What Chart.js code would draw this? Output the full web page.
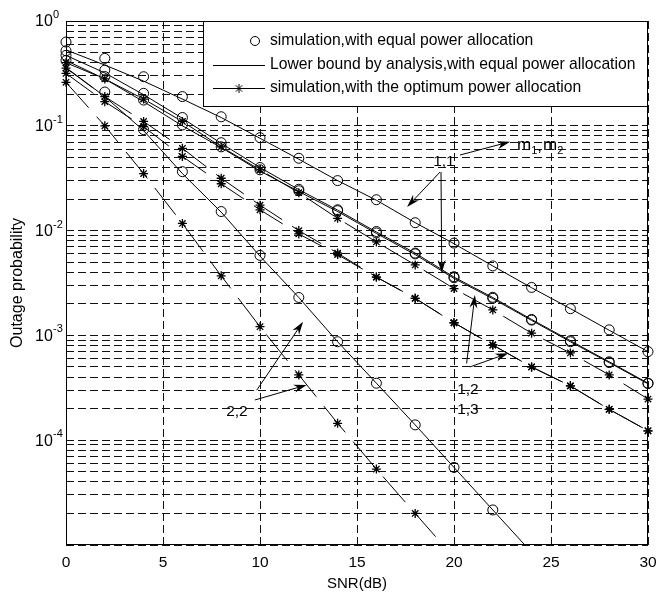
<!DOCTYPE html>
<html>
<head>
<meta charset="utf-8">
<script src="https://cdn.jsdelivr.net/npm/chart.js@4.4.0/dist/chart.umd.min.js"></script>
<style>
  html, body { margin: 0; padding: 0; background: #fff; }
</style>
</head>
<body>
<canvas id="outage" width="656" height="595"></canvas>
<script>
// SNR points (dB)
const snr = [0, 2, 4, 6, 8, 10, 12, 14, 16, 18, 20, 22, 24, 26, 28, 30];
const xTicks = [0, 5, 10, 15, 20, 25, 30];
const decades = [1e-5, 1e-4, 1e-3, 1e-2, 1e-1, 1];
const decadeExp = ['', '-4', '-3', '-2', '-1', '0'];

const legendLabels = [
  'simulation,with equal power allocation',
  'Lower bound by analysis,with equal power allocation',
  'simulation,with the optimum power allocation'
];

// equal power allocation, simulation (circles)
const simEqTop  = [0.63, 0.44, 0.294, 0.19, 0.122, 0.077, 0.049, 0.030, 0.0197, 0.0119, 0.0076, 0.0046, 0.00287, 0.0018, 0.00113, 0.0007];
const simEqMidA = [0.52, 0.34, 0.204, 0.12, 0.069, 0.040, 0.0248, 0.0158, 0.0098, 0.0061, 0.00363, 0.00231, 0.00142, 0.00089, 0.00056, 0.00035];
const simEqMidB = [0.47, 0.295, 0.176, 0.102, 0.063, 0.038, 0.024, 0.0155, 0.0095, 0.006, 0.00355, 0.00226, 0.0014, 0.00087, 0.00055, 0.000347];
const simEq22   = [0.42, 0.21, 0.092, 0.0365, 0.0152, 0.0058, 0.0023, 0.00087, 0.00035, 0.00014, 0.000055, 0.0000216, null, null, null, null];

// lower bound by analysis (solid lines)
const boundTop  = [0.53, 0.38, 0.267, 0.18, 0.12, 0.076, 0.048, 0.030, 0.0195, 0.0119, 0.0075, 0.0046, 0.00285, 0.0018, 0.00112, 0.0007];
const boundMidA = [0.47, 0.32, 0.198, 0.118, 0.068, 0.040, 0.0246, 0.0157, 0.0097, 0.0061, 0.0036, 0.0023, 0.00142, 0.00089, 0.00056, 0.00035];
const boundMidB = [0.42, 0.28, 0.17, 0.1, 0.062, 0.037, 0.0236, 0.0152, 0.0094, 0.0059, 0.0035, 0.00224, 0.00139, 0.00087, 0.00055, 0.000345];
const bound22   = [0.36, 0.19, 0.09, 0.035, 0.0150, 0.0057, 0.0023, 0.00087, 0.00035, 0.00014, 0.000055, 0.0000216, 0.0000085, null, null, null];

// optimum power allocation, simulation (stars)
const simOptA  = [0.40, 0.28, 0.18, 0.11, 0.063, 0.038, 0.023, 0.0131, 0.0078, 0.0047, 0.0028, 0.00175, 0.00105, 0.00068, 0.00042, 0.000247];
const simOptB  = [0.355, 0.19, 0.11, 0.061, 0.0316, 0.0175, 0.0100, 0.0061, 0.0036, 0.00226, 0.00132, 0.00081, 0.0005, 0.00033, 0.000197, 0.000123];
const simOptC  = [0.316, 0.17, 0.098, 0.051, 0.028, 0.0158, 0.0093, 0.0059, 0.0036, 0.00226, 0.00132, 0.00081, 0.0005, 0.00033, 0.000197, 0.000123];
const simOpt22 = [0.26, 0.10, 0.035, 0.0117, 0.0037, 0.00121, 0.00042, 0.000145, 0.000053, 0.00002, 0.0000076, null, null, null, null, null];

// text labels and arrows, in data coordinates
const notes = [
  { text: '1,1', x: 19.48, y: 0.045 },
  { text: '1,2', x: 20.72, y: 3.0e-4 },
  { text: '1,3', x: 20.72, y: 1.94e-4 },
  { text: '2,2', x: 8.81, y: 1.86e-4 }
];
const arrows = [
  [19.28, 0.0362, 17.58, 0.0168],
  [19.33, 0.0362, 19.37, 0.00394],
  [20.31, 0.0526, 22.89, 0.0705],
  [20.65, 5.4e-4, 21.08, 2.43e-3],
  [20.82, 5.0e-4, 22.8, 6.76e-4],
  [9.83, 3.0e-4, 12.22, 1.35e-3],
  [9.74, 2.42e-4, 12.41, 3.37e-4]
];

const FONT = '"Liberation Sans", Arial, sans-serif';
const clipBox = { left: 8, top: 8, right: 8, bottom: 0 };

function pts(vals) {
  return snr.map((x, i) => ({ x: x, y: vals[i] }));
}
function circles(label, vals) {
  return {
    label: label, data: pts(vals), showLine: false, clip: clipBox,
    pointStyle: 'circle', pointRadius: 5, pointBorderWidth: 1,
    pointBorderColor: '#000', pointBackgroundColor: 'rgba(0,0,0,0)'
  };
}
function bound(label, vals) {
  return {
    label: label, data: pts(vals), clip: clipBox,
    borderColor: '#000', borderWidth: 1, pointRadius: 0
  };
}
function stars(label, vals) {
  return {
    label: label, data: pts(vals), clip: clipBox,
    borderColor: '#000', borderWidth: 1, borderDash: [34, 12],
    pointStyle: 'star', pointRadius: 4.5, pointBorderWidth: 1.3,
    pointBorderColor: '#000', pointBackgroundColor: '#000'
  };
}

function arrow(ctx, x1, y1, x2, y2) {
  const ang = Math.atan2(y2 - y1, x2 - x1);
  const len = 13, half = 4;
  ctx.beginPath();
  ctx.moveTo(x1, y1);
  ctx.lineTo(x2 - Math.cos(ang) * 6, y2 - Math.sin(ang) * 6);
  ctx.stroke();
  const bx = x2 - Math.cos(ang) * len, by = y2 - Math.sin(ang) * len;
  const nx = x2 - Math.cos(ang) * (len - 4), ny = y2 - Math.sin(ang) * (len - 4);
  ctx.beginPath();
  ctx.moveTo(x2, y2);
  ctx.lineTo(bx - Math.sin(ang) * half, by + Math.cos(ang) * half);
  ctx.lineTo(nx, ny);
  ctx.lineTo(bx + Math.sin(ang) * half, by - Math.cos(ang) * half);
  ctx.closePath();
  ctx.fill();
}

const overlay = {
  id: 'overlay',
  afterDatasetsDraw(chart) {
    const ctx = chart.ctx;
    const a = chart.chartArea;
    const xs = chart.scales.x, ys = chart.scales.y;
    ctx.save();
    ctx.strokeStyle = '#000';
    ctx.fillStyle = '#000';
    ctx.lineWidth = 1;
    ctx.setLineDash([]);

    // axes box
    const l = Math.round(a.left) + 0.5, r = Math.round(a.right) - 0.5;
    const t = Math.round(a.top) + 0.5, b = Math.round(a.bottom) - 0.5;
    ctx.strokeRect(l, t, r - l, b - t);

    // y tick labels 10^k
    ctx.textBaseline = 'middle';
    ctx.textAlign = 'left';
    decades.forEach((v, i) => {
      if (!decadeExp[i]) return;
      const py = ys.getPixelForValue(v);
      ctx.font = '16px ' + FONT;
      ctx.fillText('10', 35, py + 1);
      ctx.font = '11px ' + FONT;
      ctx.fillText(decadeExp[i], 53, py - 6);
    });

    // axis titles
    ctx.textAlign = 'center';
    ctx.font = '15px ' + FONT;
    ctx.fillText('SNR(dB)', (a.left + a.right) / 2, 584);
    ctx.save();
    ctx.translate(18, (a.top + a.bottom) / 2);
    ctx.rotate(-Math.PI / 2);
    ctx.font = '16px ' + FONT;
    ctx.fillText('Outage probability', 0, 0);
    ctx.restore();

    // annotations
    ctx.font = '15.5px ' + FONT;
    notes.forEach(n => {
      ctx.fillText(n.text, xs.getPixelForValue(n.x), ys.getPixelForValue(n.y));
    });
    arrows.forEach(p => {
      arrow(ctx, xs.getPixelForValue(p[0]), ys.getPixelForValue(p[1]),
        xs.getPixelForValue(p[2]), ys.getPixelForValue(p[3]));
    });

    // m1,m2 label
    let mx = xs.getPixelForValue(23.25);
    const my = ys.getPixelForValue(0.064) + 4;
    ctx.textAlign = 'left';
    ctx.textBaseline = 'alphabetic';
    const parts = [['m', 17, 0], ['1', 11, 4], [',', 17, 1], ['m', 17, 0], ['2', 11, 4]];
    parts.forEach(p => {
      ctx.font = p[1] + 'px ' + FONT;
      ctx.fillText(p[0], mx, my + p[2]);
      mx += ctx.measureText(p[0]).width + (p[0] === ',' ? 1 : 0);
    });

    // legend box
    const lx = 203.5, ly = t, lw = r - lx, lh = 85;
    ctx.fillStyle = '#fff';
    ctx.fillRect(lx, ly, lw, lh);
    ctx.strokeRect(lx, ly, lw, lh);
    ctx.fillStyle = '#000';
    const rows = [41, 65, 88];
    ctx.font = '15.7px ' + FONT;
    ctx.textBaseline = 'middle';
    legendLabels.forEach((txt, i) => {
      ctx.fillText(txt, 270, rows[i]);
    });
    // row 1: circle marker
    ctx.beginPath();
    ctx.arc(255, rows[0], 4.5, 0, Math.PI * 2);
    ctx.stroke();
    // row 2: solid line
    ctx.beginPath();
    ctx.moveTo(213, rows[1] + 0.5);
    ctx.lineTo(265, rows[1] + 0.5);
    ctx.stroke();
    // row 3: line with star
    ctx.beginPath();
    ctx.moveTo(213, rows[2] + 0.5);
    ctx.lineTo(265, rows[2] + 0.5);
    ctx.stroke();
    Chart.helpers.drawPoint(ctx, { pointStyle: 'star', radius: 4.5, borderWidth: 1.3 }, 239, rows[2] + 0.5);
    ctx.restore();
  }
};

new Chart(document.getElementById('outage'), {
  type: 'line',
  data: {
    datasets: [
      circles(legendLabels[0], simEqTop),
      bound(legendLabels[1], boundTop),
      stars(legendLabels[2], simOptA),
      circles('eq mid a', simEqMidA),
      circles('eq mid b', simEqMidB),
      circles('eq 2,2', simEq22),
      bound('bound mid a', boundMidA),
      bound('bound mid b', boundMidB),
      bound('bound 2,2', bound22),
      stars('opt b', simOptB),
      stars('opt c', simOptC),
      stars('opt 2,2', simOpt22)
    ]
  },
  options: {
    responsive: false,
    animation: false,
    devicePixelRatio: 1,
    layout: { padding: { top: 21, right: 8, left: 0, bottom: 0 } },
    plugins: { legend: { display: false }, tooltip: { enabled: false } },
    scales: {
      x: {
        type: 'linear', min: 0, max: 30,
        afterBuildTicks: s => { s.ticks = xTicks.map(v => ({ value: v })); },
        afterFit: s => { s.height = 50; s.paddingLeft = 0; s.paddingRight = 0; },
        grid: { color: '#111', lineWidth: 1, drawTicks: false },
        border: { display: false, dash: [8, 4] },
        ticks: { color: '#000', font: { family: FONT, size: 15.5 }, padding: 8, autoSkip: false, maxRotation: 0 }
      },
      y: {
        type: 'logarithmic', min: 1e-5, max: 1,
        afterBuildTicks: s => {
          const list = [];
          decades.slice(0, -1).forEach(d => {
            for (let m = 1; m <= 9; m++) list.push({ value: m * d });
          });
          list.push({ value: 1 });
          s.ticks = list;
        },
        afterFit: s => { s.width = 66; },
        grid: { color: '#111', lineWidth: 1, drawTicks: false },
        border: { display: false, dash: [8, 4] },
        ticks: { display: false, autoSkip: false }
      }
    }
  },
  plugins: [overlay]
});
</script>
</body>
</html>
